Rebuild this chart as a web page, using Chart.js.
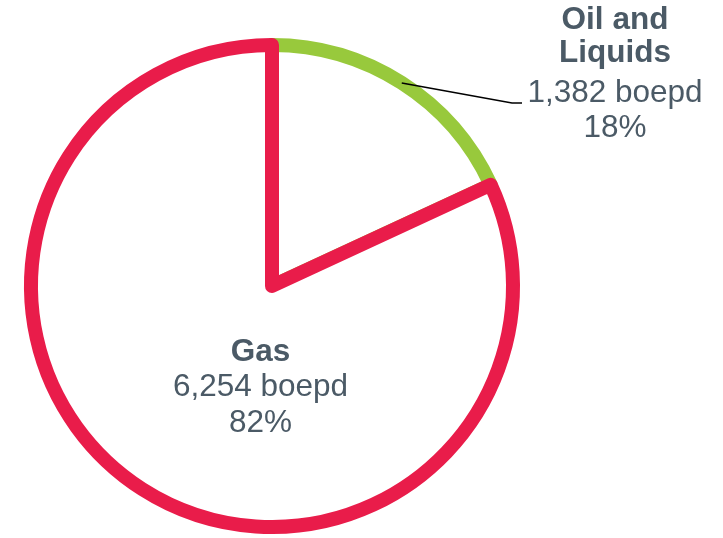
<!DOCTYPE html>
<html>
<head>
<meta charset="utf-8">
<script src="https://cdn.jsdelivr.net/npm/chart.js@4/dist/chart.umd.min.js"></script>
<style>
  html, body { margin: 0; padding: 0; background: #fff; }
  #wrap { width: 723px; height: 538px; position: relative; }
</style>
</head>
<body>
<div id="wrap"><canvas id="pie"></canvas></div>
<script>
// data
const categories = ['Oil and Liquids', 'Gas'];
const boepd = [1382, 6254];
const shares = ['18%', '82%'];
const sliceColors = ['#98c93c', '#e91c4a'];

const textColor = '#4b5a66';

// labels drawn by hand, like the original slide
const labelPlugin = {
    id: 'sliceLabels',
    afterDatasetsDraw(chart) {
        const c = chart.ctx;
        const arcs = chart.getDatasetMeta(0).data;
        const oil = arcs[0];
        const cx = oil.x, cy = oil.y, r = oil.outerRadius;

        c.save();
        c.textAlign = 'center';
        c.textBaseline = 'middle';
        c.fillStyle = textColor;

        // Oil and Liquids - outside on the right, with a leader line
        const mid = (oil.startAngle + oil.endAngle) / 2;
        const sx = cx + Math.cos(mid) * r;
        const sy = cy + Math.sin(mid) * r;
        c.strokeStyle = '#000';
        c.lineWidth = 1.5;
        c.beginPath();
        c.moveTo(sx, sy);
        c.lineTo(512, 103);
        c.lineTo(522, 103);
        c.stroke();

        const ox = 615;
        c.font = 'bold 31.5px "Liberation Sans", Arial, sans-serif';
        c.fillText('Oil and', ox, 20);
        c.fillText('Liquids', ox, 53);
        c.font = '31.5px "Liberation Sans", Arial, sans-serif';
        c.fillText(boepd[0].toLocaleString('en-US') + ' boepd', ox, 93);
        c.fillText(shares[0], ox, 128);

        // Gas - inside the big slice
        const gx = cx - 11.5;
        c.font = 'bold 31.5px "Liberation Sans", Arial, sans-serif';
        c.fillText(categories[1], gx, 352);
        c.font = '31.5px "Liberation Sans", Arial, sans-serif';
        c.fillText(boepd[1].toLocaleString('en-US') + ' boepd', gx, 387);
        c.fillText(shares[1], gx, 423);
        c.restore();
    }
};

new Chart(document.getElementById('pie'), {
    type: 'pie',
    data: {
        labels: categories,
        datasets: [{
            data: boepd,
            backgroundColor: '#ffffff',
            borderColor: sliceColors,
            borderWidth: 14,
            borderJoinStyle: 'round',
            hoverOffset: 0
        }]
    },
    options: {
        responsive: true,
        maintainAspectRatio: false,
        animation: false,
        events: [],
        layout: { padding: { left: 24, top: 37, right: 203, bottom: 3 } },
        plugins: {
            legend: { display: false },
            tooltip: { enabled: false }
        }
    },
    plugins: [labelPlugin]
});
</script>
</body>
</html>
